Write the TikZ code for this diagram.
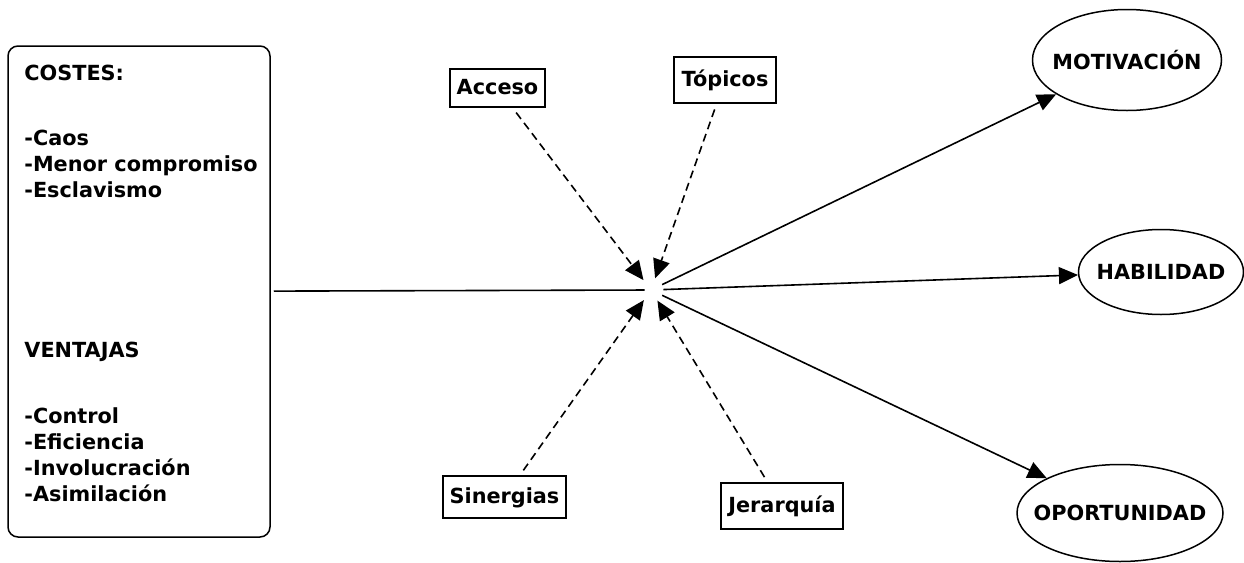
\documentclass[tikz,border=0pt]{standalone}
\usepackage{fontspec}
\setmainfont{DejaVu Sans}
\usepackage{tikz}
\usetikzlibrary{arrows.meta,shapes.geometric}

\begin{document}
\begin{tikzpicture}[x=0.5pt,y=-0.5pt,font=\bfseries\fontsize{10.4}{11.5}\selectfont,
    >={Triangle[length=9.5pt,width=8.5pt]},
    lst/.style={anchor=west, inner sep=0pt, text height=7.6pt, text depth=0pt},
    tag/.style={draw, line width=0.75pt, inner sep=0pt, text height=7.6pt, text depth=1.5pt},
    oval/.style={ellipse, draw, line width=0.75pt, inner sep=0pt},
    flow/.style={->, line width=0.8pt},
    infl/.style={->, line width=0.8pt, dash pattern=on 4pt off 2.5pt, shorten <=3pt}]
  \useasboundingbox (0,0) rectangle (1244,563);
  % ---------- left box ----------
  \node[draw, line width=0.75pt, rounded corners=5pt, minimum width=131pt, minimum height=245.5pt] (box) at (139,291.5) {};
  \node[lst] (costes) at (24,73) {COSTES:};
  \foreach \t [count=\i] in {-Caos,-Menor compromiso,-Esclavismo}
    \node[lst] (c\i) at (24,{138+26*(\i-1)}) {\t};
  \node[lst] (ventajas) at (24,350) {VENTAJAS};
  \foreach \t [count=\i] in {-Control,-Eficiencia,-Involucración,-Asimilación}
    \node[lst] (v\i) at (24,{416+26*(\i-1)}) {\t};
  % ---------- hub ----------
  \node[circle, minimum size=12pt, inner sep=0pt] (hub) at (651,290) {};
  % ---------- moderators ----------
  \node[tag, minimum width=47.5pt, minimum height=19pt] (acceso)  at (497.5,88) {Acceso};
  \node[tag, minimum width=51pt,   minimum height=23pt] (topicos) at (725,80)   {Tópicos};
  \node[tag, minimum width=61.5pt, minimum height=21pt] (sinerg)  at (504.5,497) {Sinergias};
  \node[tag, minimum width=61pt,   minimum height=23pt] (jerarq)  at (782,506)  {Jerarquía};
  % ---------- outcomes ----------
  \node[oval, minimum width=94.5pt, minimum height=50.5pt] (motiv) at (1127,60)  {\makebox[0pt]{MOTIVACIÓN}};
  \node[oval, minimum width=82.5pt, minimum height=42.5pt] (habil) at (1161,272) {\makebox[0pt]{HABILIDAD}};
  \node[oval, minimum width=103pt,  minimum height=48.5pt] (oport) at (1120,513) {\makebox[0pt]{OPORTUNIDAD}};
  % ---------- links ----------
  \draw[line width=0.8pt, shorten <=1.5pt, shorten >=-3pt] (box) -- (hub);
  \draw[infl] (acceso) -- (hub);
  \draw[infl] (topicos) -- (hub);
  \draw[infl] (sinerg) -- (hub);
  \draw[infl] (jerarq) -- (hub);
  \draw[flow] (hub) -- (motiv);
  \draw[flow] (hub) -- (habil);
  \draw[flow] (hub) -- (oport);
\end{tikzpicture}
\end{document}
